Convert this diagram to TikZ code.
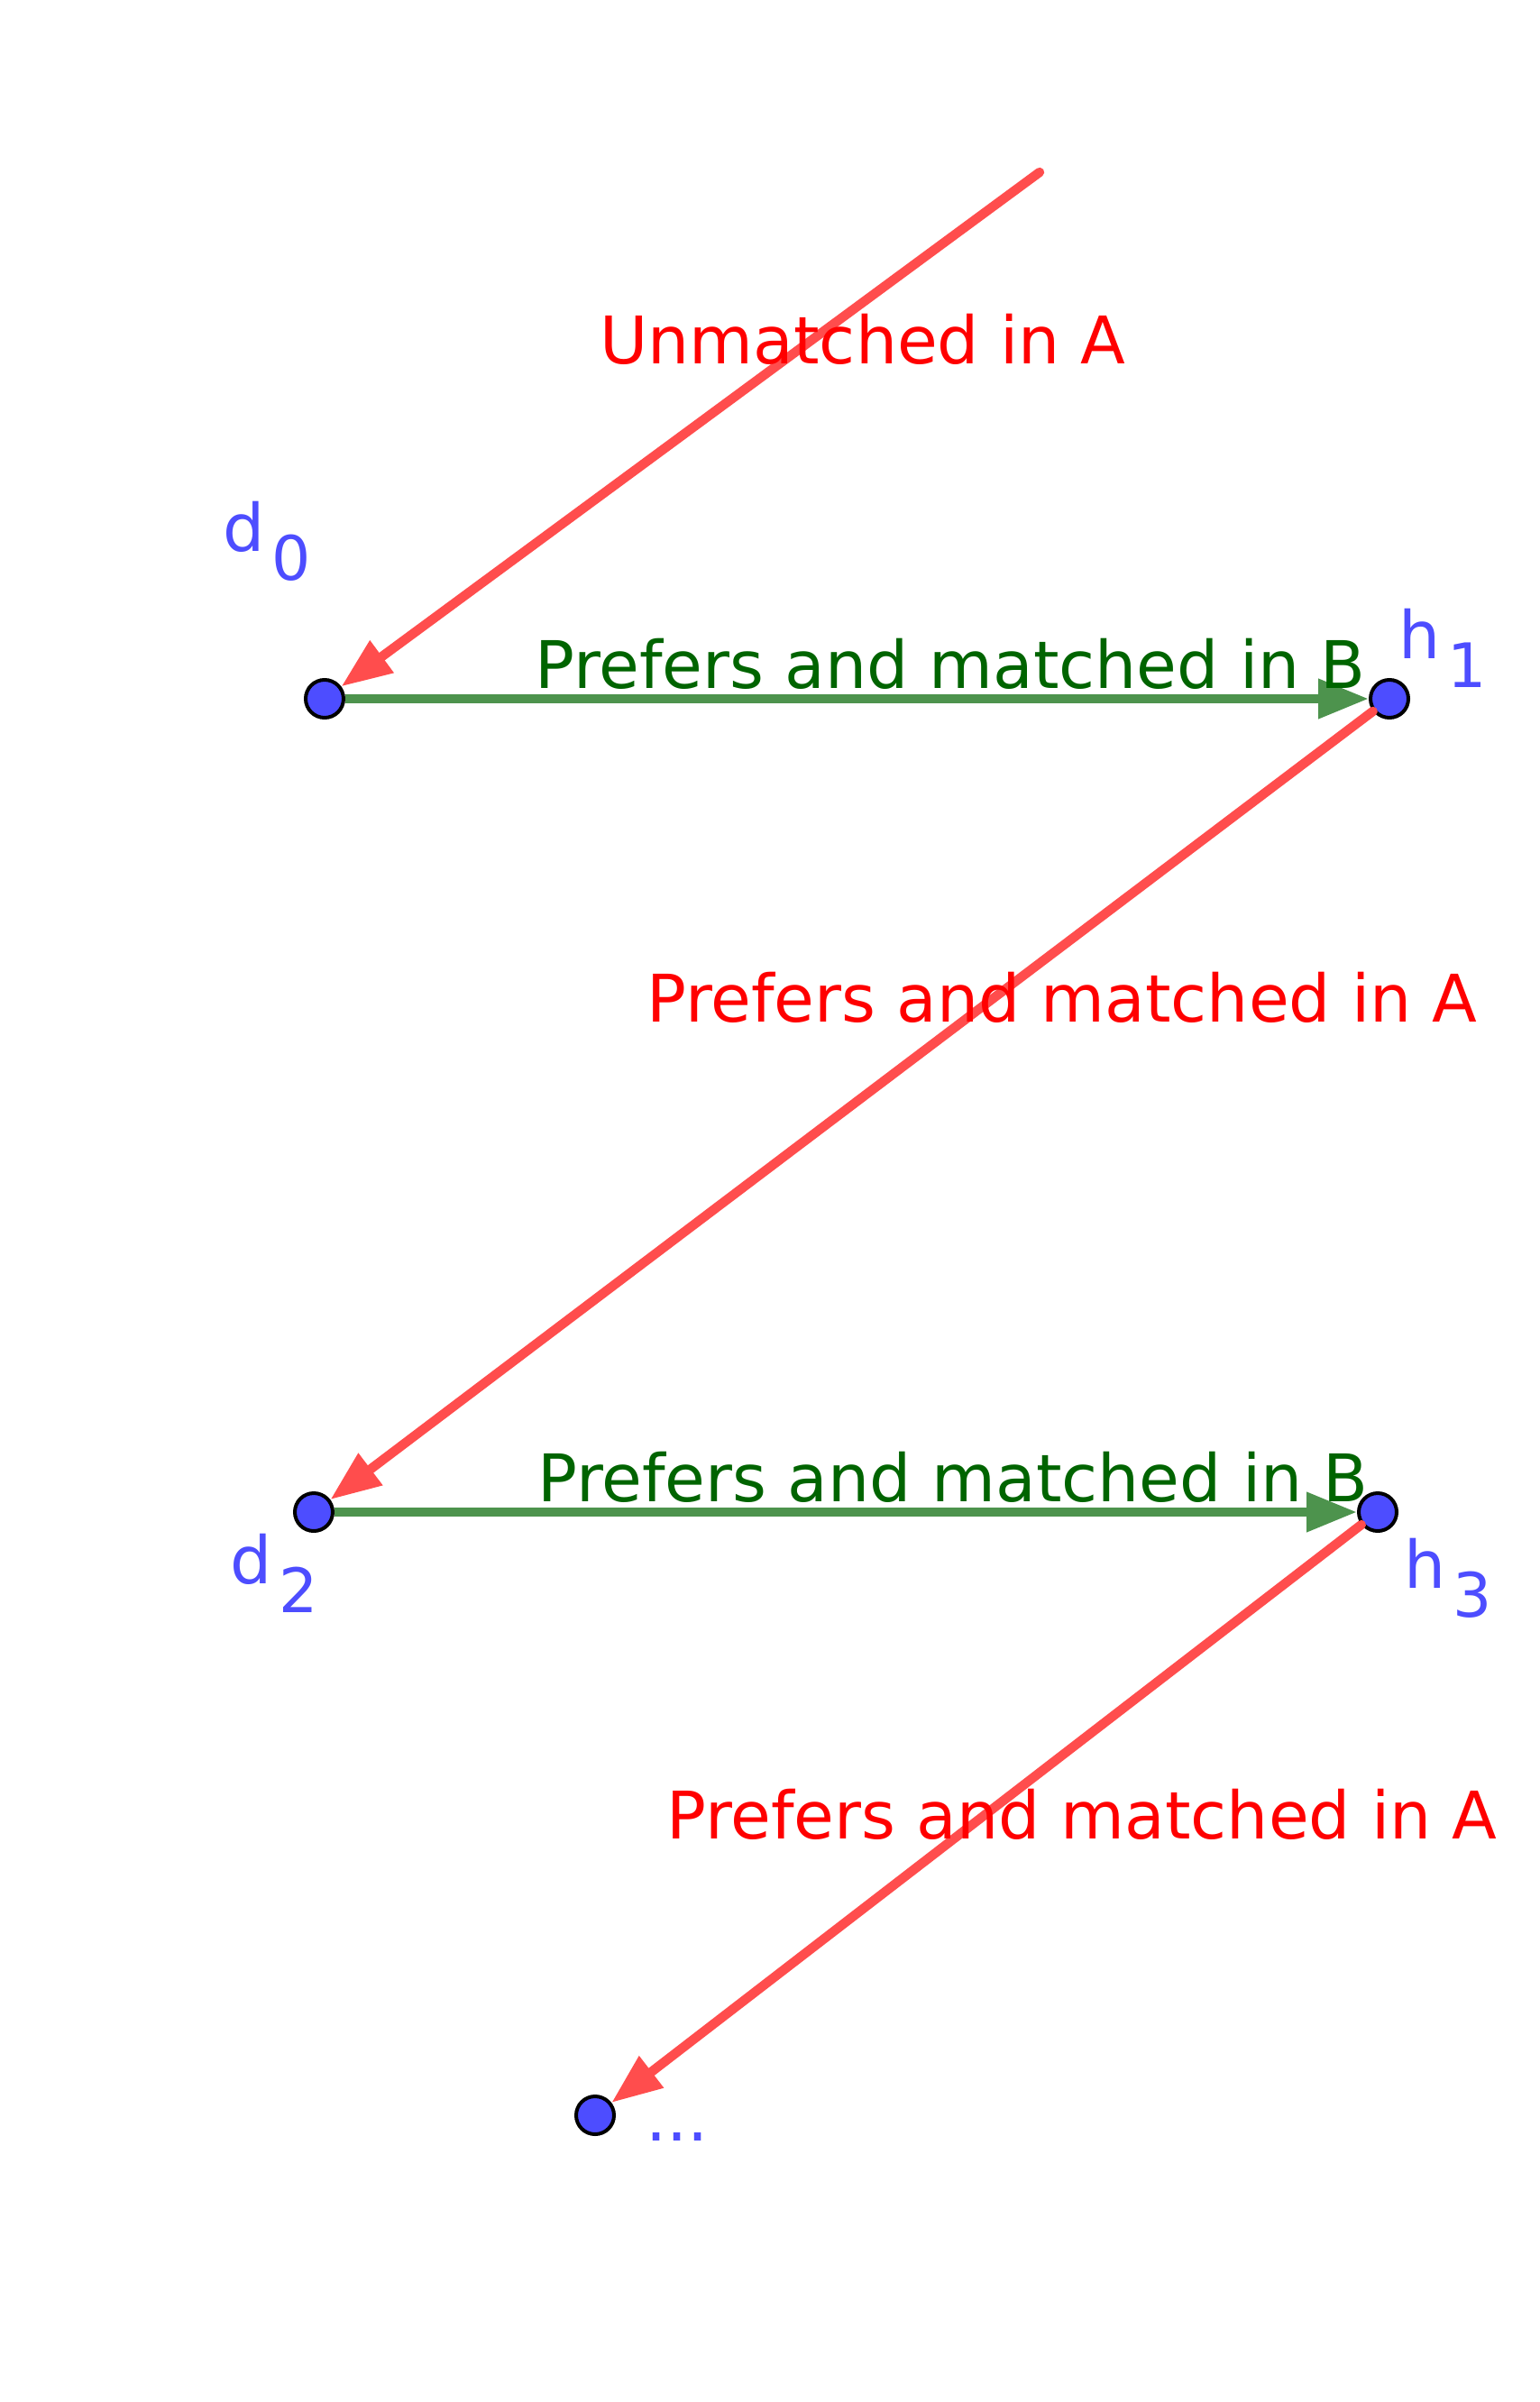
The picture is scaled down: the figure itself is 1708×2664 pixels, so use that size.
\documentclass[tikz,border=0pt]{standalone}
\usepackage{fontspec}
\setmainfont{DejaVu Sans}
\usetikzlibrary{arrows.meta,positioning}
\definecolor{pointblue}{RGB}{77,77,255}
\definecolor{redline}{RGB}{255,77,77}
\definecolor{greenline}{RGB}{77,147,77}
\definecolor{greentext}{RGB}{0,100,0}
\newcommand{\sublabel}[2]{#1\hspace{0.1em}\raisebox{-0.44em}{\fontsize{17}{20}\selectfont #2}}

\begin{document}
\begin{tikzpicture}[x=0.25pt, y=-0.25pt,
  vertex/.style={circle, draw=black, line width=1pt, fill=pointblue, minimum size=10.5pt, inner sep=0pt},
  aedge/.style={draw=redline, line width=2.6pt, line cap=round, -{Triangle[length=14pt,width=10.5pt]}},
  bedge/.style={draw=greenline, line width=2.6pt, -{Triangle[length=14pt,width=10.5pt]}},
  alabel/.style={text=red, font=\fontsize{18.2}{22}\selectfont, inner sep=0pt},
  blabel/.style={text=greentext, font=\fontsize{18.2}{22}\selectfont, inner sep=0pt},
  vlabel/.style={text=pointblue, font=\fontsize{18.2}{22}\selectfont, inner sep=0pt}]
\useasboundingbox (0,0) rectangle (1708,2664);
% points
\coordinate (start) at (1153,191);
\node[vertex] (d0) at (360,775) {};
\node[vertex] (h1) at (1541,775) {};
\node[vertex] (d2) at (348,1677) {};
\node[vertex] (h3) at (1528,1677) {};
\node[vertex] (dots) at (660,2346) {};
% edges
\draw[aedge] (start) -- (d0);
\draw[bedge] (d0) -- (h1);
\draw[aedge] (h1) -- (d2);
\draw[bedge] (d2) -- (h3);
\draw[aedge] (h3) -- (dots);
% labels
\node[alabel] (lunm) at (957,376) {Unmatched in A};
\node[blabel] (lb1) at (1054,736) {Prefers and matched in B};
\node[alabel] (la1) at (1178,1106) {Prefers and matched in A};
\node[blabel] (lb2) at (1057,1638) {Prefers and matched in B};
\node[alabel] (la2) at (1200,2012) {Prefers and matched in A};
\node[vlabel] (nd0) at (296,600) {\sublabel{d}{0}};
\node[vlabel] (nh1) at (1600,719) {\sublabel{h}{1}};
\node[vlabel] (nd2) at (304,1745) {\sublabel{d}{2}};
\node[vlabel] (nh3) at (1606,1750) {\sublabel{h}{3}};
\node[vlabel] (ndots) at (751,2370) {...};
\end{tikzpicture}
\end{document}
